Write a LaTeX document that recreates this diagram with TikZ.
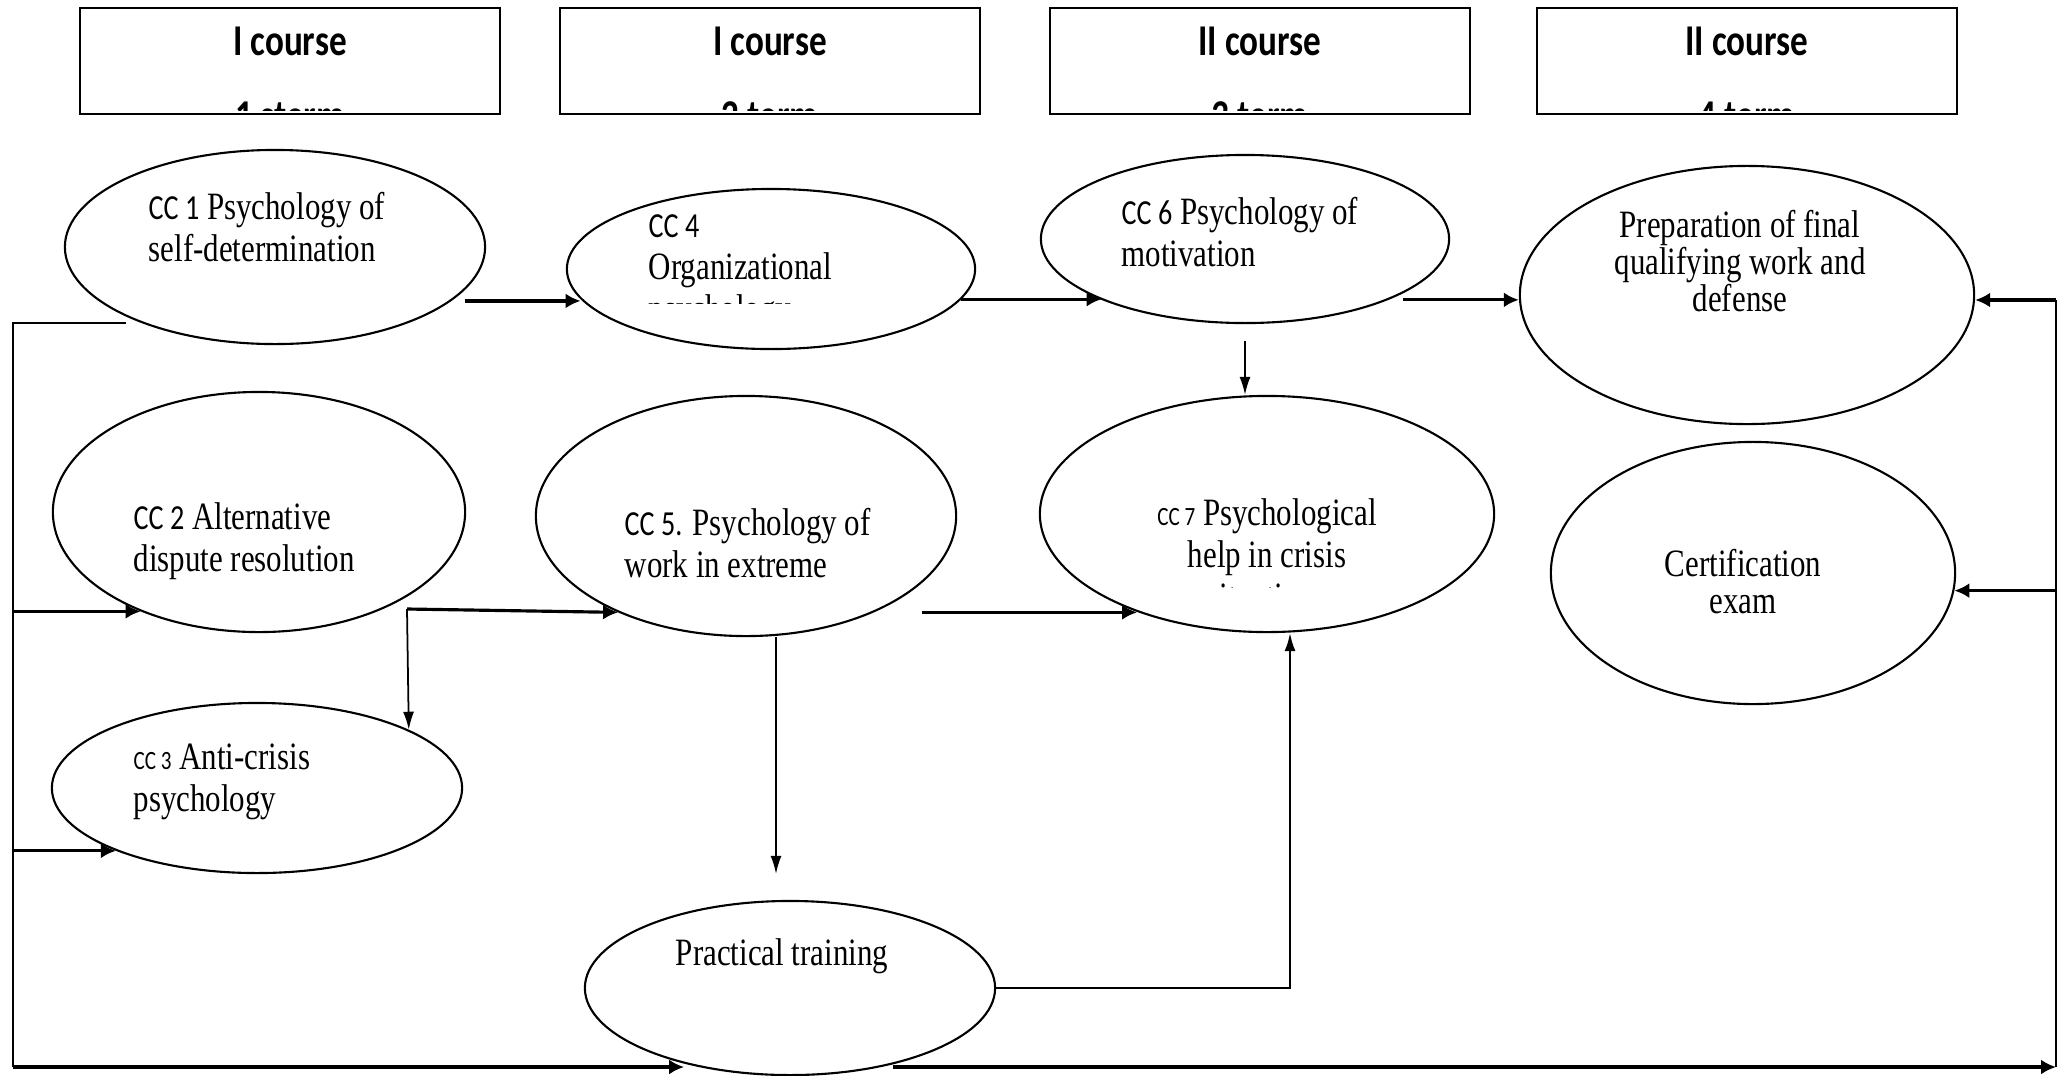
\documentclass[tikz,border=0pt]{standalone}
\usepackage{fontspec}
\setmainfont{Liberation Serif}
\newfontfamily\hdfont[FakeStretch=0.8]{Carlito}
\newfontfamily\txfont[FakeStretch=0.8]{Liberation Serif}
\newfontfamily\ccfont[FakeStretch=0.8]{Carlito}
\usetikzlibrary{arrows.meta, positioning, shapes.geometric, calc}
\newcommand{\cc}[1]{{\ccfont\fontsize{10}{12}\selectfont CC #1}}
\newcommand{\smcc}[1]{{\ccfont\fontsize{7.5}{12}\selectfont CC #1}}

\begin{document}
\begin{tikzpicture}[x=0.01cm, y=-0.01cm,
		hd/.style={draw, line width=0.7pt, minimum width=4.2cm, minimum height=1.06cm, inner sep=0},
		hdtxt/.style={font=\hdfont\bfseries\fontsize{12.5}{15}\selectfont, inner sep=0},
		subj/.style={ellipse, draw, line width=0.6pt, inner sep=0},
		txt/.style={font=\txfont\fontsize{11}{12}\selectfont, inner sep=0},
		txtb/.style={font=\txfont\fontsize{11}{10.5}\selectfont, inner sep=0},
		arr/.style={-{Latex[length=1.5mm,width=1.5mm]}, line width=0.9pt},
		varr/.style={-{Latex[length=1.8mm,width=1.1mm]}, line width=0.5pt}]
			\useasboundingbox (0,0) rectangle (2060,1075);
			% course headers
			\foreach \x/\c/\t [count=\i] in {290/I/1 sterm, 770/I/2 term, 1260/II/3 term, 1747/II/4 term} {
				\node[hd] (h\i) at (\x,61) {};
				\node[hdtxt] (h\i a) at (\x,41) {\c\ course};
				\begin{scope}
					\clip (h\i.north west) rectangle ([yshift=0.05cm]h\i.south east);
					\node[hdtxt, anchor=north] (h\i b) at (\x,101) {\t};
				\end{scope}
			}
			% subjects
			\node[subj, minimum width=4.2cm, minimum height=1.94cm] (cc1) at (275,247) {};
			\node[subj, minimum width=4.08cm, minimum height=1.6cm] (cc4) at (771,269) {};
			\node[subj, minimum width=4.08cm, minimum height=1.68cm] (cc6) at (1245,239) {};
			\node[subj, minimum width=4.54cm, minimum height=2.58cm] (prep) at (1747,295) {};
			\node[subj, minimum width=4.12cm, minimum height=2.4cm] (cc2) at (259,512) {};
			\node[subj, minimum width=4.2cm, minimum height=2.4cm] (cc5) at (746,516) {};
			\node[subj, minimum width=4.54cm, minimum height=2.36cm] (cc7) at (1267,514) {};
			\node[subj, minimum width=4.04cm, minimum height=2.62cm] (cert) at (1753,573) {};
			\node[subj, minimum width=4.1cm, minimum height=1.7cm] (cc3) at (257,788) {};
			\node[subj, minimum width=4.1cm, minimum height=1.74cm] (prac) at (790,988) {};
			% texts
			\node[txt, anchor=west, align=left] (cc1t) at (148,227) {\cc{1} Psychology of\\self-determination};
			\begin{scope}
				\clip (560,150) rectangle (990,303);
				\node[txt, anchor=west, align=left] (cc4t) at (648,272) {\cc{4}\\Organizational\\psychology};
			\end{scope}
			\node[txt, anchor=west, align=left] (cc6t) at (1121,232) {\cc{6} Psychology of\\motivation};
			\node[txtb, align=center] (prept) at (1740,261) {Preparation of final\\qualifying work and\\defense};
			\node[txt, anchor=west, align=left] (cc2t) at (133,541) {\cc{2} Alternative\\dispute resolution};
			\node[txt, anchor=west, align=left] (cc5t) at (624,543) {\cc{5.} Psychology of\\work in extreme};
			\begin{scope}
				\clip (1040,400) rectangle (1500,587);
				\node[txt, align=center] (cc7t) at (1267,554) {\smcc{7} Psychological\\help in crisis\\situations};
			\end{scope}
			\node[txtb, align=center] (certt) at (1743,582) {Certification\\exam};
			\node[txt, anchor=west, align=left] (cc3t) at (133,782) {\smcc{3} Anti-crisis\\psychology};
			\node[txt] (pract) at (782,956) {Practical training};
			% bus lines
			\coordinate (lt) at (13,323);
			\coordinate (lb) at (13,1067);
			\coordinate (rt) at (2056,300);
			\coordinate (rb) at (2056,1067);
			\coordinate (split) at (407,609);
			\draw[line width=0.5pt] (cc1.205 |- lt) -- (lt) -- (lb);
			\draw[arr] (lt |- cc2.220) -- (cc2.220);
			\draw[arr] (lt |- cc3.204) -- (cc3.204);
			\draw[arr, shorten >=0.2cm] (lb) -- (lb -| prac.223);
			\draw[arr, shorten <=0.17cm] (lb -| prac.-43) -- (rb);
			\draw[line width=0.5pt] (rb) -- (rt);
			\draw[arr] (rt) -- (rt -| prep.east);
			\draw[arr] (rt |- cert.-5) -- (cert.-5);
			% links
			\draw[arr, shorten <=0.14cm] (cc1.-17) -- (cc1.-17 -| cc4.189);
			\draw[arr] (cc4.-9) -- (cc4.-9 -| cc6.203);
			\draw[arr, shorten <=0.15cm] (cc6.-23) -- (cc6.-23 -| prep.west);
			\draw[varr, shorten <=0.17cm] (cc6.south) -- (cc6.south |- cc7.north);
			\draw[arr] (split) -- (cc5.217);
			\draw[varr] (split) -- (cc3.21);
			\draw[arr, shorten <=0.48cm] (cc5.-37) -- (cc5.-37 -| cc7.217);
			\draw[varr, shorten >=0.26cm] ([xshift=0.3cm]cc5.south) -- ([xshift=0.3cm]cc5.south |- prac.north);
			\draw[varr, line width=0.6pt] (prac.east) -| ([xshift=0.23cm]cc7.south);
		\end{tikzpicture}
\end{document}
